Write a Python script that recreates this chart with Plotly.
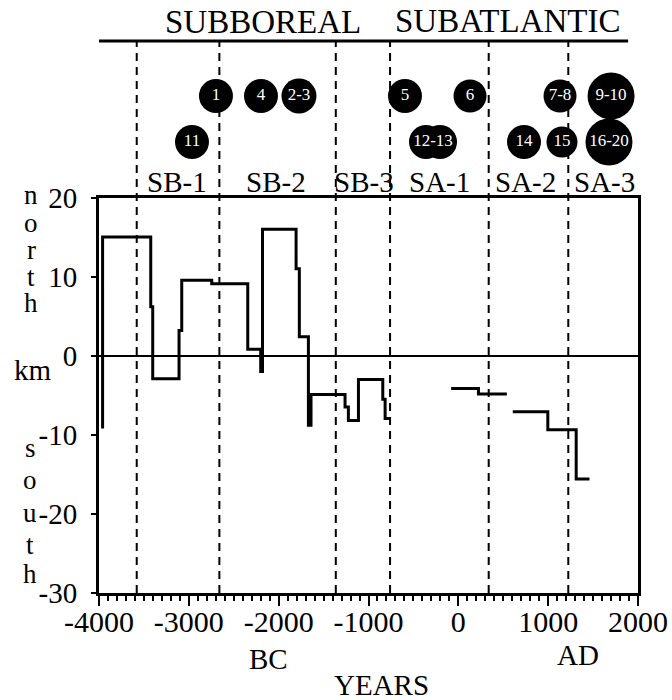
import plotly.graph_objects as go

# ---------------- data ----------------
# step curve of shoreline displacement (km, + north / - south)
seg1_years = [-3960, -3960, -3424, -3402, -3109, -3079, -2745, -2344, -2200, -2180,
              -1806, -1770, -1669, -1640, -1261, -1224, -1112, -841, -815, -759]
seg1_km = [-9.2, 15.0, 6.2, -2.9, 3.2, 9.55, 9.1, 0.8, -2.0, 16.0,
           11.0, 2.4, -8.8, -4.9, -6.5, -8.2, -3.0, -5.5, -7.95, -7.95]
seg2_years = [-80, 224, 540]
seg2_km = [-4.15, -4.83, -4.83]
seg3_years = [606, 996, 1312, 1460]
seg3_km = [-7.1, -9.35, -15.6, -15.6]

# period boundaries (years)
boundary_years = [-3580, -2660, -1364, -760, 338, 1224]
period_labels = ["SB-1", "SB-2", "SB-3", "SA-1", "SA-2", "SA-3"]
period_label_years = [-3132, -2030, -1050, -215, 753, 1622]

# site circles
site_years = [-2698, -2197, -1774, -594, 130, 1132, 1700,
              -2965, -360, -204, 731, 1154, 1677]
site_row = [1, 1, 1, 1, 1, 1, 1, 2, 2, 2, 2, 2, 2]
site_size = [34, 34, 35, 34, 33, 33, 47, 34, 34, 34, 34, 31, 47]
site_labels = ["1", "4", "2-3", "5", "6", "7-8", "9-10", "11", "14", "15", "16-20", "12-13"]
site_label_years = [-2698, -2197, -1774, -594, 130, 1132, 1700, -2965, 731, 1154, 1677, -282]
site_label_row = [1, 1, 1, 1, 1, 1, 1, 2, 2, 2, 2, 2]

x_ticks = [-4000, -3000, -2000, -1000, 0, 1000, 2000]
x_tick_text = ["-4000", "-3000", "-2000", "-1000", "0", "1000", "2000"]
y_ticks = [-30, -20, -10, 0, 10, 20]
y_tick_text = ["-30", "-20", "-10", "0", "10", "20"]

# ---------------- layout helpers ----------------
W, H = 672, 700
ML, MR, MT, MB = 99, 34, 20, 107
PH = H - MT - MB          # plot-area height in px


def py(p):
    """page pixel y -> paper fraction"""
    return (H - MB - p) / PH


FONT = "Liberation Serif"
main_top = py(197.5)
# secondary (site) axis: row value -> pixel  p = 50 + 46*row, over page px [MT, 197.5]
row_top = (MT - 50) / 46
row_bot = (197.5 - 50) / 46

fig = go.Figure()

for xs, ys in [(seg1_years, seg1_km), (seg2_years, seg2_km), (seg3_years, seg3_km)]:
    fig.add_trace(go.Scatter(x=xs, y=ys, mode="lines", line=dict(color="black", width=3, shape="hv"),
                             hoverinfo="skip", showlegend=False, xaxis="x", yaxis="y"))

fig.add_trace(go.Scatter(x=site_years, y=site_row, mode="markers",
                         marker=dict(color="black", size=site_size, opacity=1, line=dict(width=0)),
                         showlegend=False, xaxis="x", yaxis="y2", hoverinfo="skip", cliponaxis=False))
fig.add_trace(go.Scatter(x=site_label_years, y=site_label_row, mode="text", text=site_labels,
                         textposition="middle center",
                         textfont=dict(family=FONT, size=17, color="white"),
                         showlegend=False, xaxis="x", yaxis="y2", hoverinfo="skip", cliponaxis=False))

shapes = []
for b in boundary_years:
    shapes.append(dict(type="line", xref="x", yref="paper", x0=b, x1=b, y0=0, y1=py(42),
                       line=dict(color="black", width=2, dash="8px,6px"), layer="below"))
# top horizontal rule
shapes.append(dict(type="line", xref="x", yref="paper", x0=-4022, x1=1890, y0=py(41), y1=py(41),
                   line=dict(color="black", width=3)))

annotations = []


def ann(text, xp, yp, size=30, xanchor="center", yanchor="middle"):
    annotations.append(dict(text=text, x=(xp - ML) / (W - ML - MR), y=py(yp), xref="paper", yref="paper",
                            showarrow=False, xanchor=xanchor, yanchor=yanchor, borderpad=0,
                            font=dict(family=FONT, size=size, color="black")))


ann("SUBBOREAL", 263, 22, size=33)
ann("SUBATLANTIC", 508, 21, size=33)
for lab, yr in zip(period_labels, period_label_years):
    annotations.append(dict(text=lab, x=yr, y=py(182), xref="x", yref="paper", showarrow=False,
                            xanchor="center", yanchor="middle",
                            font=dict(family=FONT, size=29, color="black")))

for ch, yp in zip("north", [195, 223, 250, 277, 303]):
    ann(ch, 31, yp, size=27)
ann("km", 33, 370, size=29)
for ch, yp in zip("south", [448, 480, 513, 545, 574]):
    ann(ch, 30, yp, size=27)

ann("BC", 268, 659, size=29)
ann("AD", 578, 655, size=29)
ann("YEARS", 381, 685, size=29)

fig.update_layout(
    width=W, height=H,
    margin=dict(l=ML, r=MR, t=MT, b=MB, autoexpand=False),
    paper_bgcolor="white", plot_bgcolor="white",
    showlegend=False,
    shapes=shapes, annotations=annotations,
    xaxis=dict(range=[-4000, 2000], tickvals=x_ticks, ticktext=x_tick_text,
               ticks="outside", ticklen=10, tickwidth=2, tickcolor="black",
               ticklabelstandoff=-10,
               minor=dict(dtick=100, tick0=0, ticks="outside", ticklen=5, tickwidth=2, tickcolor="black"),
               showline=True, linecolor="black", linewidth=3, mirror=True,
               showgrid=False, zeroline=False, anchor="y",
               tickfont=dict(family=FONT, size=30, color="black")),
    yaxis=dict(range=[-30, 20], domain=[0, main_top], tickvals=y_ticks, ticktext=y_tick_text,
               ticks="outside", ticklen=5, tickwidth=2, tickcolor="black",
               ticklabelstandoff=8,
               showline=True, linecolor="black", linewidth=3, mirror=True,
               showgrid=False, zeroline=True, zerolinecolor="black", zerolinewidth=2,
               tickfont=dict(family=FONT, size=29, color="black")),
    yaxis2=dict(range=[row_bot, row_top], domain=[main_top, 1], visible=False, anchor="x",
                showgrid=False, zeroline=False),
)

fig.write_html("out.html", config={"displayModeBar": False},
               post_script="document.body.style.margin='0';document.body.style.overflow='hidden';")
